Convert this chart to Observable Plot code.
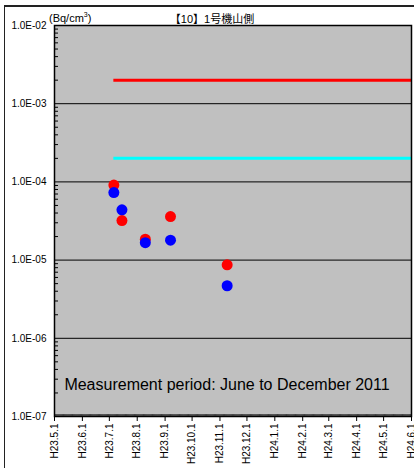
<!DOCTYPE html>
<html><head><meta charset="utf-8">
<script src="https://cdn.jsdelivr.net/npm/d3@7"></script>
<script src="https://cdn.jsdelivr.net/npm/@observablehq/plot@0.6"></script>
<style>
html,body{margin:0;padding:0;background:#fff;overflow:hidden;}
#wrap{position:relative;width:414px;height:468px;font-family:"Liberation Sans",Arial,sans-serif;}
#chart{position:absolute;left:0;top:0;}
#border{position:absolute;left:4px;top:5px;width:500px;height:500px;border-top:2px solid #222;border-left:1px solid #222;}
#title{position:absolute;left:0;width:424px;top:10px;text-align:center;font-size:11px;font-family:"Liberation Sans","Noto Sans CJK JP",sans-serif;}
#unit{position:absolute;left:49px;top:11px;font-size:11px;}
#unit sup{font-size:7px;}
</style></head>
<body><div id="wrap"><div id="chart"></div><div id="border"></div><div id="title">【10】1号機山側</div><div id="unit">(Bq/cm<sup>3</sup>)</div></div>
<script>
// Data
const sampleDates = ["2011-07-06", "2011-07-15", "2011-08-10", "2011-09-07", "2011-11-09"];
const redValues = [9.1e-5, 3.2e-5, 1.85e-5, 3.6e-5, 8.7e-6];
const blueValues = [7.3e-5, 4.4e-5, 1.67e-5, 1.8e-5, 4.7e-6];
const limitStart = "2011-07-06";
const limitEnd = "2012-06-01";
const redLimit = 2e-3;
const cyanLimit = 2e-4;
const xStart = "2011-05-01";
const xEnd = "2012-06-01";
const yTicks = [1e-7, 1e-6, 1e-5, 1e-4, 1e-3, 1e-2];
const caption = "Measurement period: June to December 2011";

const parse = d3.utcParse("%Y-%m-%d");
const red = sampleDates.map((d, i) => ({date: parse(d), value: redValues[i]}));
const blue = sampleDates.map((d, i) => ({date: parse(d), value: blueValues[i]}));
const limits = [
  {x1: parse(limitStart), x2: parse(limitEnd), value: redLimit, color: "#ff0000"},
  {x1: parse(limitStart), x2: parse(limitEnd), value: cyanLimit, color: "#00ffff"}
];
const x0 = parse(xStart), x1 = parse(xEnd);
const monthTicks = d3.utcMonth.range(x0, d3.utcDay.offset(x1, 1));
const dayTicks = d3.utcDay.range(x0, x1);
const minorY = [];
for (let e = -7; e < -2; e++) for (let m = 2; m <= 9; m++) minorY.push(m * Math.pow(10, e));

const fmtY = v => {
  const e = Math.round(Math.log10(v));
  return "1.0E-" + String(-e).padStart(2, "0");
};
const fmtX = d => `H${d.getUTCFullYear() - 1988}.${d.getUTCMonth() + 1}.1`;

const chart = Plot.plot({
  width: 414,
  height: 468,
  marginLeft: 54,
  marginRight: 3,
  marginTop: 25,
  marginBottom: 52,
  style: {background: "transparent", fontFamily: "'Liberation Sans', Arial, sans-serif", color: "black"},
  x: {type: "utc", domain: [x0, x1], label: null},
  y: {type: "log", domain: [1e-7, 1e-2], label: null},
  marks: [
    Plot.frame({fill: "#c0c0c0"}),
    Plot.ruleY(yTicks, {stroke: "black", strokeWidth: 1}),
    Plot.ruleY(limits, {y: "value", x1: "x1", x2: "x2", stroke: "color", strokeWidth: 3}),
    Plot.dot(red, {x: "date", y: "value", r: 5.5, fill: "#ff0000"}),
    Plot.dot(blue, {x: "date", y: "value", r: 5.5, fill: "#0000ff"}),
    Plot.text([caption], {frameAnchor: "bottom", dy: -27, dx: -6, fontSize: 16, fill: "black"}),
    Plot.frame({stroke: "black", strokeWidth: 1.5}),
    Plot.axisY(minorY, {tickSize: -4, tickFormat: () => "", stroke: "black"}),
    Plot.axisY(yTicks, {tickSize: 0, tickPadding: 8, tickFormat: fmtY, fontSize: 10, label: null}),
    Plot.axisX(dayTicks, {tickSize: -2, tickFormat: () => "", stroke: "black", strokeWidth: 0.6}),
    Plot.axisX(monthTicks, {tickSize: 5, tickPadding: 2, tickRotate: -90, tickFormat: fmtX, fontSize: 10, label: null})
  ]
});
document.getElementById("chart").appendChild(chart);
</script>
</body></html>
